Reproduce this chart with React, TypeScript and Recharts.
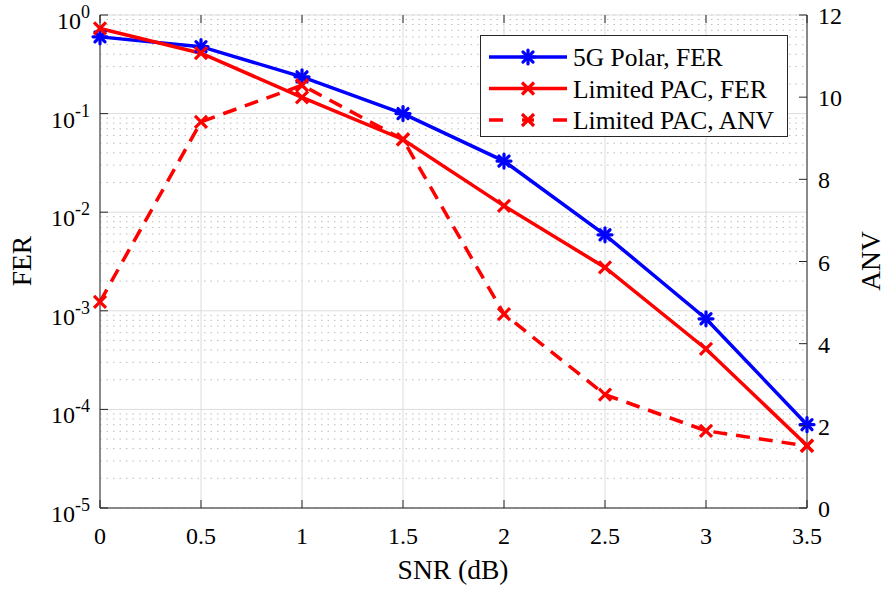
import { CartesianGrid, Legend, Line, LineChart, XAxis, YAxis } from "recharts";

const snr = [0, 0.5, 1, 1.5, 2, 2.5, 3, 3.5];
const polarFer = [0.6, 0.477, 0.236, 0.1, 0.033, 0.0059, 8.3e-4, 7.0e-5];
const pacFer = [0.73, 0.41, 0.146, 0.0547, 0.0116, 0.00275, 4.1e-4, 4.3e-5];
const pacAnv = [5.02, 9.4, 10.29, 8.97, 4.72, 2.76, 1.88, 1.51];

const snrTicks = [0, 0.5, 1, 1.5, 2, 2.5, 3, 3.5];
const ferTicks = [1e-5, 1e-4, 1e-3, 1e-2, 1e-1, 1];
const anvTicks = [0, 2, 4, 6, 8, 10, 12];
const ferMinor = ferTicks
  .slice(0, -1)
  .flatMap((d) => [2, 3, 4, 5, 6, 7, 8, 9].map((m) => m * d));

const data = snr.map((s, i) => ({
  snr: s,
  polar: polarFer[i],
  pac: pacFer[i],
  anv: pacAnv[i],
}));

// plot box (px)
const L = 100;
const R = 807;
const T = 15;
const B = 508;
const FONT = "'Liberation Serif', 'Times New Roman', serif";
const AXIS = "#262626";
const BLUE = "#0000FF";
const RED = "#FF0000";

function Asterisk({ cx, cy, color }: { cx: number; cy: number; color: string }) {
  const r = 7;
  const d = r * 0.72;
  return (
    <g stroke={color} strokeWidth={3.2} strokeLinecap="round">
      <line x1={cx - r} y1={cy} x2={cx + r} y2={cy} />
      <line x1={cx} y1={cy - r} x2={cx} y2={cy + r} />
      <line x1={cx - d} y1={cy - d} x2={cx + d} y2={cy + d} />
      <line x1={cx - d} y1={cy + d} x2={cx + d} y2={cy - d} />
    </g>
  );
}

function Cross({ cx, cy, color }: { cx: number; cy: number; color: string }) {
  const r = 6;
  return (
    <g stroke={color} strokeWidth={3.2}>
      <line x1={cx - r} y1={cy - r} x2={cx + r} y2={cy + r} />
      <line x1={cx - r} y1={cy + r} x2={cx + r} y2={cy - r} />
    </g>
  );
}

const txt = { fontFamily: FONT, fill: "#000" };

const FerTick = ({ y, payload }: any) => {
  const exp = Math.round(Math.log10(payload.value));
  return (
    <g>
      <line x1={L} x2={L + 8} y1={y} y2={y} stroke={AXIS} />
      <text x={90} y={y + 14} textAnchor="end" fontSize={24} style={txt}>
        10
        <tspan fontSize={18} dy={-11}>
          {exp}
        </tspan>
      </text>
    </g>
  );
};

const MinorTick = ({ y }: any) => <line x1={L} x2={L + 4} y1={y} y2={y} stroke={AXIS} />;

const AnvTick = ({ y, payload }: any) => (
  <g>
    <line x1={R - 8} x2={R} y1={y} y2={y} stroke={AXIS} />
    <text x={818} y={y + 9} fontSize={24} style={txt}>
      {payload.value}
    </text>
  </g>
);

const SnrTick = ({ x, payload }: any) => (
  <g>
    <line x1={x} x2={x} y1={B} y2={B - 8} stroke={AXIS} />
    <line x1={x} x2={x} y1={T} y2={T + 8} stroke={AXIS} />
    <text x={x} y={544} textAnchor="middle" fontSize={24} style={txt}>
      {payload.value}
    </text>
  </g>
);

const legendRows = [
  { name: "5G Polar, FER", color: BLUE, dash: false, marker: "asterisk" },
  { name: "Limited PAC, FER", color: RED, dash: false, marker: "cross" },
  { name: "Limited PAC, ANV", color: RED, dash: true, marker: "cross" },
];

const LegendBox = () => (
  <div
    style={{
      width: 306,
      height: 100,
      border: `1px solid ${AXIS}`,
      background: "#fff",
    }}
  >
    <svg width={306} height={100}>
      {legendRows.map((row, i) => {
        const cy = 21 + i * 31.5;
        return (
          <g key={row.name}>
            <line
              x1={8}
              x2={86}
              y1={cy}
              y2={cy}
              stroke={row.color}
              strokeWidth={3.5}
              strokeDasharray={row.dash ? "14 19 12 19 14" : undefined}
            />
            {row.marker === "asterisk" ? (
              <Asterisk cx={47} cy={cy} color={row.color} />
            ) : (
              <Cross cx={47} cy={cy} color={row.color} />
            )}
            <text x={92} y={cy + 9} fontSize={25.5} style={txt}>
              {row.name}
            </text>
          </g>
        );
      })}
    </svg>
  </div>
);

export default function App() {
  return (
    <div style={{ position: "absolute", left: 0, top: 0, background: "#fff" }}>
      <LineChart
        width={887}
        height={589}
        data={data}
        margin={{ top: T, right: 0, left: 0, bottom: 0 }}
      >
        <CartesianGrid
          yAxisId="minor"
          vertical={false}
          stroke="#bdbdbd"
          strokeDasharray="1.5 5"
        />
        <CartesianGrid yAxisId="fer" stroke="#dcdcdc" strokeWidth={1} />
        <XAxis
          dataKey="snr"
          type="number"
          domain={[0, 3.5]}
          ticks={snrTicks}
          height={589 - B}
          axisLine={{ stroke: AXIS }}
          tickLine={false}
          tick={<SnrTick />}
          interval={0}
          label={{
            content: () => (
              <text x={453} y={579} textAnchor="middle" fontSize={27.5} style={txt}>
                SNR (dB)
              </text>
            ),
          }}
        />
        <XAxis
          xAxisId="top"
          orientation="top"
          dataKey="snr"
          type="number"
          domain={[0, 3.5]}
          height={0}
          axisLine={{ stroke: AXIS }}
          tick={false}
          tickLine={false}
        />
        <YAxis
          yAxisId="fer"
          scale="log"
          domain={[1e-5, 1]}
          ticks={ferTicks}
          allowDataOverflow
          width={L}
          axisLine={{ stroke: AXIS }}
          tickLine={false}
          tick={<FerTick />}
          interval={0}
          label={{
            content: () => (
              <text
                transform="translate(31, 261) rotate(-90)"
                textAnchor="middle"
                fontSize={27.5}
                style={txt}
              >
                FER
              </text>
            ),
          }}
        />
        <YAxis
          yAxisId="minor"
          scale="log"
          domain={[1e-5, 1]}
          ticks={ferMinor}
          allowDataOverflow
          width={0}
          axisLine={false}
          tickLine={false}
          tick={<MinorTick />}
          interval={0}
        />
        <YAxis
          yAxisId="anv"
          orientation="right"
          domain={[0, 12]}
          ticks={anvTicks}
          width={887 - R}
          axisLine={{ stroke: AXIS }}
          tickLine={false}
          tick={<AnvTick />}
          interval={0}
          label={{
            content: () => (
              <text
                transform="translate(880, 261) rotate(-90)"
                textAnchor="middle"
                fontSize={27.5}
                style={txt}
              >
                ANV
              </text>
            ),
          }}
        />
        <Line
          yAxisId="fer"
          dataKey="polar"
          name="5G Polar, FER"
          stroke={BLUE}
          strokeWidth={3.5}
          isAnimationActive={false}
          dot={(p: any) => <Asterisk key={`a${p.index}`} cx={p.cx} cy={p.cy} color={BLUE} />}
        />
        <Line
          yAxisId="fer"
          dataKey="pac"
          name="Limited PAC, FER"
          stroke={RED}
          strokeWidth={3.5}
          isAnimationActive={false}
          dot={(p: any) => <Cross key={`b${p.index}`} cx={p.cx} cy={p.cy} color={RED} />}
        />
        <Line
          yAxisId="anv"
          dataKey="anv"
          name="Limited PAC, ANV"
          stroke={RED}
          strokeWidth={3.5}
          strokeDasharray="14 9"
          isAnimationActive={false}
          dot={(p: any) => <Cross key={`c${p.index}`} cx={p.cx} cy={p.cy} color={RED} />}
        />
        <Legend
          layout="horizontal"
          verticalAlign="middle"
          align="center"
          wrapperStyle={{ left: 480, top: 35, width: 308 }}
          content={() => <LegendBox />}
        />
      </LineChart>
    </div>
  );
}
